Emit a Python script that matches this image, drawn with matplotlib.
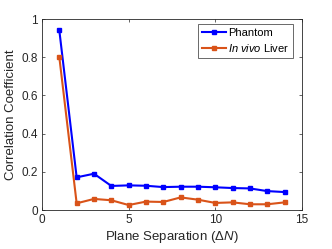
import matplotlib
matplotlib.use("Agg")
import matplotlib.pyplot as plt

plane_sep = [1, 2, 3, 4, 5, 6, 7, 8, 9, 10, 11, 12, 13, 14]
phantom = [0.94, 0.171, 0.19, 0.126, 0.129, 0.127, 0.12, 0.122, 0.122, 0.119, 0.115, 0.113, 0.099, 0.094]
liver = [0.80, 0.035, 0.058, 0.051, 0.026, 0.044, 0.042, 0.066, 0.054, 0.037, 0.04, 0.03, 0.03, 0.04]

plt.rcParams['font.family'] = ['Liberation Sans', 'DejaVu Sans']
plt.rcParams['mathtext.fontset'] = 'custom'
plt.rcParams['mathtext.rm'] = 'Liberation Sans'
plt.rcParams['mathtext.it'] = 'Liberation Sans:italic'

axcol = (0.15, 0.15, 0.15)

fig = plt.figure(figsize=(3.32, 2.49), dpi=100)
ax = fig.add_axes([0.1265, 0.1566, 0.783, 0.767])

ax.plot(plane_sep, phantom, '-s', color=(0, 0, 1), lw=1.5, ms=3.5, label='Phantom')
ax.plot(plane_sep, liver, '-s', color=(0.85, 0.325, 0.098), lw=1.5, ms=3.5,
        label=r'$\mathit{In\ vivo}$ Liver')

ax.set_xlim(0, 15)
ax.set_ylim(0, 1)
ax.set_xticks([0, 5, 10, 15])
ax.set_yticks([0, 0.2, 0.4, 0.6, 0.8, 1])
ax.set_yticklabels(['0', '0.2', '0.4', '0.6', '0.8', '1'])
ax.tick_params(direction='in', top=True, right=True, length=2.5, width=0.5,
               labelsize=8.5, colors=axcol, pad=3)
for sp in ax.spines.values():
    sp.set_linewidth(0.6)
    sp.set_color(axcol)

ax.set_xlabel(r'Plane Separation ($\mathit{\Delta N}$)', fontsize=9.5, color=axcol, labelpad=2)
ax.set_ylabel('Correlation Coefficient', fontsize=9.5, color=axcol, labelpad=3)

leg = ax.legend(loc='upper right', bbox_to_anchor=(0.965, 0.974), borderaxespad=0,
                fontsize=8, frameon=True, fancybox=False,
                borderpad=0.35, handlelength=2.1, handletextpad=0.2, labelspacing=0.35)
leg.get_frame().set_edgecolor(axcol)
leg.get_frame().set_linewidth(0.6)

fig.savefig('out.png', dpi=100)
